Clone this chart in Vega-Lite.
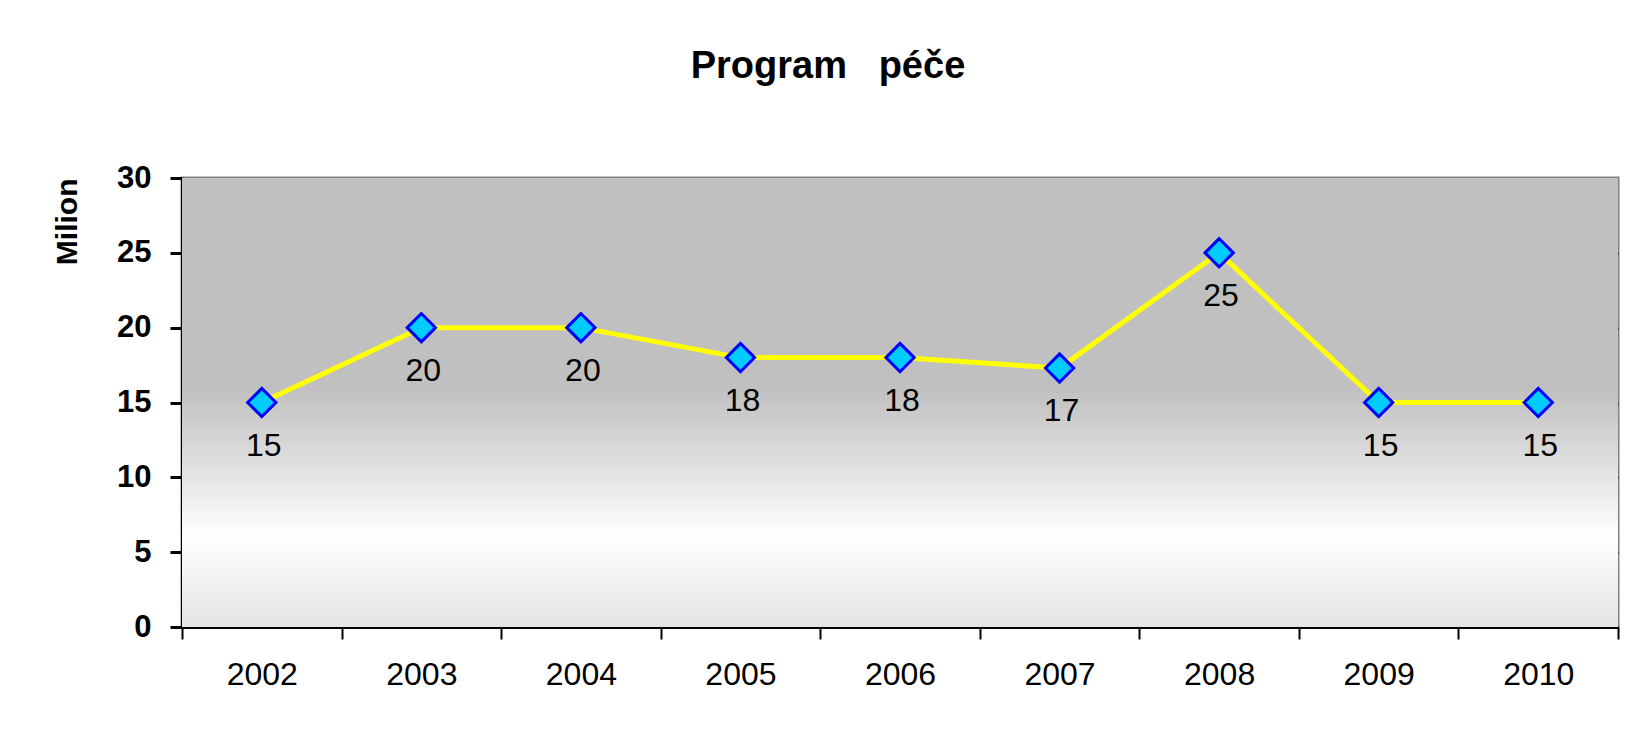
{
  "$schema": "https://vega.github.io/schema/vega-lite/v6.json",
  "autosize": {"type": "none"},
  "width": 1436,
  "height": 449,
  "padding": {"left": 182, "top": 178, "right": 11, "bottom": 104},
  "background": "white",
  "title": {
    "text": "Program\u00a0\u00a0\u00a0péče",
    "font": "Liberation Sans",
    "fontSize": 38,
    "fontWeight": "bold",
    "color": "black",
    "anchor": "middle",
    "dx": -72,
    "offset": 76
  },
  "config": {
    "font": "Liberation Sans",
    "view": {"stroke": "#808080", "strokeWidth": 3}
  },
  "data": {
    "values": [
      {"rok": "2002", "hodnota": 15, "popisek": "15"},
      {"rok": "2003", "hodnota": 20, "popisek": "20"},
      {"rok": "2004", "hodnota": 20, "popisek": "20"},
      {"rok": "2005", "hodnota": 18, "popisek": "18"},
      {"rok": "2006", "hodnota": 18, "popisek": "18"},
      {"rok": "2007", "hodnota": 17.3, "popisek": "17"},
      {"rok": "2008", "hodnota": 25, "popisek": "25"},
      {"rok": "2009", "hodnota": 15, "popisek": "15"},
      {"rok": "2010", "hodnota": 15, "popisek": "15"}
    ]
  },
  "encoding": {
    "x": {
      "field": "rok",
      "type": "ordinal",
      "scale": {"type": "band", "paddingInner": 0, "paddingOuter": 0},
      "axis": {
        "title": null,
        "labelAngle": 0,
        "labelFont": "Liberation Sans",
        "labelFontSize": 32,
        "labelColor": "black",
        "labelPadding": 20,
        "tickBand": "extent",
        "tickSize": 12,
        "tickWidth": 2,
        "tickColor": "black",
        "domainColor": "black",
        "domainWidth": 3,
        "grid": false
      }
    }
  },
  "layer": [
    {
      "mark": {
        "type": "rect",
        "color": {
          "gradient": "linear",
          "x1": 0, "y1": 0, "x2": 0, "y2": 1,
          "stops": [
            {"offset": 0, "color": "#c0c0c0"},
            {"offset": 0.47, "color": "#c0c0c0"},
            {"offset": 0.66, "color": "#e4e4e4"},
            {"offset": 0.8, "color": "#ffffff"},
            {"offset": 1, "color": "#e4e4e4"}
          ]
        }
      },
      "encoding": {
        "x": null,
        "y": {"datum": 0, "type": "quantitative"},
        "y2": {"datum": 30}
      }
    },
    {
      "mark": {"type": "line", "color": "#ffff00", "strokeWidth": 5},
      "encoding": {
        "y": {
          "field": "hodnota",
          "type": "quantitative",
          "scale": {"domain": [0, 30], "nice": false},
          "axis": {
            "title": "Milion",
            "titleFont": "Liberation Sans",
            "titleFontSize": 30,
            "titleFontWeight": "bold",
            "titleColor": "black",
            "titleAnchor": "end",
            "titlePadding": 34,
            "values": [0, 5, 10, 15, 20, 25, 30],
            "labelFont": "Liberation Sans",
            "labelFontSize": 31,
            "labelFontWeight": "bold",
            "labelColor": "black",
            "labelPadding": 19,
            "tickSize": 12,
            "tickWidth": 3,
            "tickColor": "black",
            "domainColor": "black",
            "domainWidth": 3,
            "grid": true,
            "gridColor": {"condition": {"test": "datum.value === 30 || datum.value === 0", "value": "transparent"}, "value": "black"},
            "gridWidth": 2,
            "gridOpacity": 1
          }
        }
      }
    },
    {
      "mark": {"type": "point", "shape": "diamond", "filled": true, "fill": "#00ccff", "stroke": "#0000ff", "strokeWidth": 3, "size": 800, "opacity": 1},
      "encoding": {
        "y": {"field": "hodnota", "type": "quantitative"}
      }
    },
    {
      "mark": {"type": "text", "dy": 43, "dx": 2, "fontSize": 32, "font": "Liberation Sans", "color": "black"},
      "encoding": {
        "y": {"field": "hodnota", "type": "quantitative"},
        "text": {"field": "popisek"}
      }
    }
  ]
}
